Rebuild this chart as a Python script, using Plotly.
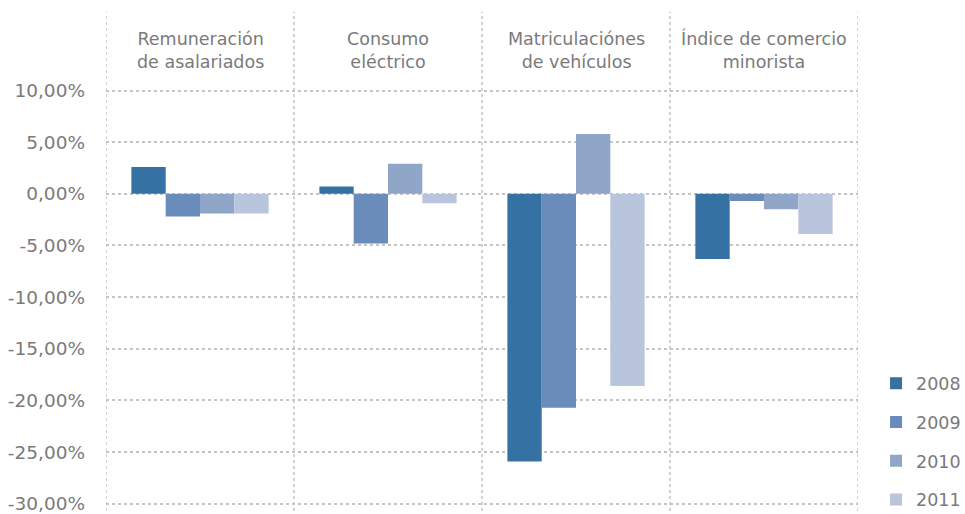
import plotly.graph_objects as go

categories = ["Remuneración<br>de asalariados", "Consumo<br>eléctrico",
              "Matriculaciónes<br>de vehículos", "Índice de comercio<br>minorista"]
years = ["2008", "2009", "2010", "2011"]
values_2008 = [2.6, 0.7, -25.9, -6.3]
values_2009 = [-2.2, -4.8, -20.7, -0.7]
values_2010 = [-1.9, 2.9, 5.8, -1.5]
values_2011 = [-1.9, -0.9, -18.6, -3.9]
series = [values_2008, values_2009, values_2010, values_2011]
colors = ["#3572a3", "#6a8cba", "#8fa6c8", "#b8c5dd"]
tick_vals = [10, 5, 0, -5, -10, -15, -20, -25, -30]
tick_text = ["10,00%", "5,00%", "0,00%", "-5,00%", "-10,00%", "-15,00%",
             "-20,00%", "-25,00%", "-30,00%"]

FONT = "DejaVu Sans"
GRAY = "#7a7a7a"
GRID = "#c4c4c4"

xpos = list(range(len(categories)))

fig = go.Figure()
for yr, vals, col in zip(years, series, colors):
    fig.add_trace(go.Bar(x=xpos, y=vals, name=yr, marker_color=col,
                         marker_line_width=0, legendgroup=yr))

# vertical dotted separators
for i in range(len(categories) + 1):
    fig.add_shape(type="line", xref="x", yref="paper", x0=i - 0.5, x1=i - 0.5,
                  y0=0, y1=1, line=dict(color=GRID, width=1.5, dash="dot"), layer="below")

# category labels at top
for i, c in enumerate(categories):
    fig.add_annotation(x=i, y=13.9, xref="x", yref="y", text=c, showarrow=False,
                       font=dict(family=FONT, size=17.5, color=GRAY), align="center")

fig.update_layout(
    width=965, height=514,
    margin=dict(l=106, r=107, t=12, b=3, autoexpand=False),
    plot_bgcolor="white", paper_bgcolor="white",
    barmode="group", bargap=0.27, bargroupgap=0,
    font=dict(family=FONT, color=GRAY),
    xaxis=dict(range=[-0.5, len(categories) - 0.5], showticklabels=False,
               showgrid=False, zeroline=False, showline=False, ticks="",
               automargin=False),
    yaxis=dict(range=[-30.7, 17.6], tickvals=tick_vals, ticktext=tick_text,
               showgrid=True, gridcolor=GRID, griddash="dot", gridwidth=1.5,
               zeroline=False, showline=False, ticks="", automargin=False,
               ticklabeloverflow="allow",
               tickfont=dict(family=FONT, size=18.5, color=GRAY), ticklabelstandoff=20),
    legend=dict(x=1.024, y=-0.013, xanchor="left", yanchor="bottom",
                font=dict(family=FONT, size=17.5, color=GRAY),
                tracegroupgap=13, bgcolor="rgba(0,0,0,0)"),
    showlegend=True,
)

fig.write_html("out.html", config={"displayModeBar": False},
               post_script="document.body.style.margin='0';document.body.style.overflow='hidden';")
